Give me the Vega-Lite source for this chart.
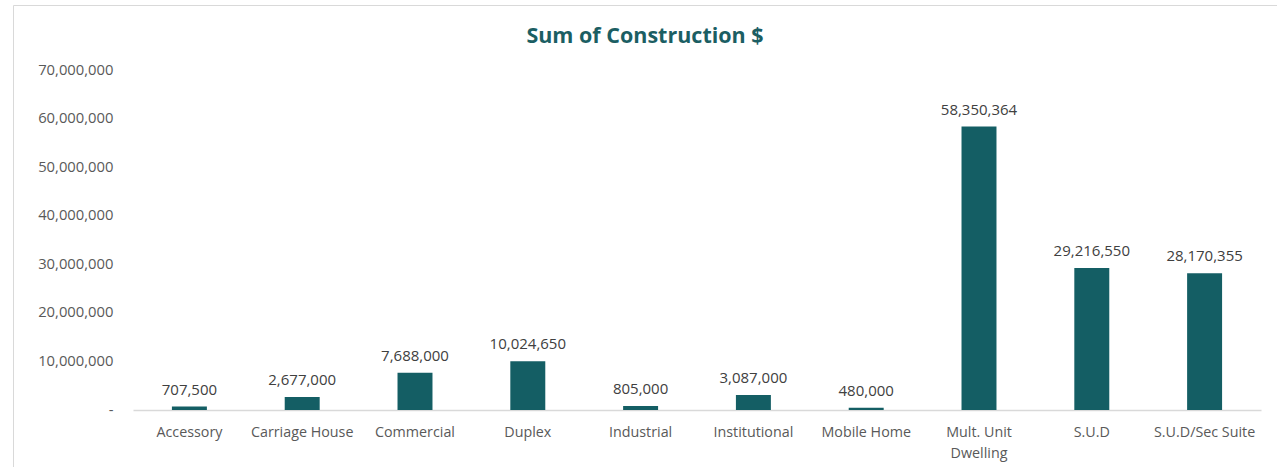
{
  "$schema": "https://vega.github.io/schema/vega-lite/v6.json",
  "autosize": "none",
  "padding": {"left": 13, "top": 5, "right": 0, "bottom": 0},
  "width": 1264,
  "height": 470,
  "background": "white",
  "config": {
    "view": {"stroke": "#D9D9D9", "strokeWidth": 1},
    "font": "Open Sans"
  },
  "title": {
    "text": "Sum of Construction $",
    "anchor": "middle",
    "offset": -42,
    "fontSize": 21.5,
    "fontWeight": "bold",
    "color": "#1B5E63",
    "font": "Open Sans"
  },
  "data": {
    "values": [
      {"type": "Accessory", "value": 707500},
      {"type": "Carriage House", "value": 2677000},
      {"type": "Commercial", "value": 7688000},
      {"type": "Duplex", "value": 10024650},
      {"type": "Industrial", "value": 805000},
      {"type": "Institutional", "value": 3087000},
      {"type": "Mobile Home", "value": 480000},
      {"type": "Mult. Unit Dwelling", "value": 58350364},
      {"type": "S.U.D", "value": 29216550},
      {"type": "S.U.D/Sec Suite", "value": 28170355}
    ]
  },
  "encoding": {
    "x": {
      "field": "type",
      "type": "nominal",
      "sort": null,
      "scale": {"range": [120, 1248], "paddingInner": 0.69, "paddingOuter": 0.345},
      "axis": {
        "title": null,
        "offset": -65,
        "labelAngle": 0,
        "ticks": false,
        "domainColor": "#D9D9D9",
        "domainWidth": 1.5,
        "labelColor": "#595959",
        "labelFontSize": 14.3,
        "labelPadding": 22,
        "labelLineHeight": 21,
        "labelExpr": "datum.value == 'Mult. Unit Dwelling' ? ['Mult. Unit', 'Dwelling'] : datum.value",
        "labelBaseline": "middle"
      }
    },
    "y": {
      "field": "value",
      "type": "quantitative",
      "scale": {"domain": [0, 70000000], "range": [405, 65], "nice": false, "zero": true},
      "axis": {
        "title": null,
        "offset": -120,
        "domain": false,
        "ticks": false,
        "grid": false,
        "values": [0, 10000000, 20000000, 30000000, 40000000, 50000000, 60000000, 70000000],
        "labelExpr": "datum.value == 0 ? '-' : format(datum.value, ',')",
        "labelColor": "#595959",
        "labelFontSize": 14.8,
        "labelPadding": 20
      }
    }
  },
  "layer": [
    {"mark": {"type": "bar", "color": "#145E64"}},
    {
      "mark": {"type": "text", "baseline": "bottom", "dy": -9, "fontSize": 15, "color": "#404040"},
      "encoding": {"text": {"field": "value", "type": "quantitative", "format": ","}}
    }
  ]
}
